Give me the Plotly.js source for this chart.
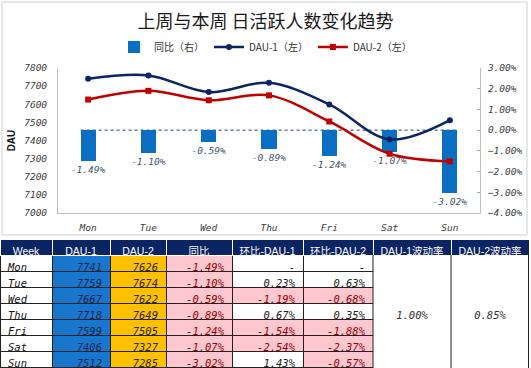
<!DOCTYPE html>
<html>
<head>
<meta charset="utf-8">
<script src="https://cdn.plot.ly/plotly-3.0.1.min.js"></script>
<style>html,body{margin:0;padding:0;background:#fff;}#chart{width:531px;height:368px;}</style>
</head>
<body>
<div id="chart"></div>
<script>
// ---- data ----
const days = ['Mon','Tue','Wed','Thu','Fri','Sat','Sun'];
const dau1 = [7741, 7759, 7667, 7718, 7599, 7406, 7512];
const dau2 = [7626, 7674, 7622, 7649, 7505, 7327, 7285];
const yoyPct = [-1.49, -1.10, -0.59, -0.89, -1.24, -1.07, -3.02];
const momDau1Pct = [null, 0.23, -1.19, 0.67, -1.54, -2.54, 1.43];
const momDau2Pct = [null, 0.63, -0.68, 0.35, -1.88, -2.37, -0.57];
const vol1Pct = 1.00;
const vol2Pct = 0.85;
const headers = ['Week','DAU-1','DAU-2','同比','环比-DAU-1','环比-DAU-2','DAU-1波动率','DAU-2波动率'];
const legendNames = ['同比（右）','DAU-1（左）','DAU-2（左）'];
const titleText = '上周与本周 日活跃人数变化趋势';

// ---- helpers ----
const W = 531, H = 368;
const px = v => v / W;
const py = v => (H - v) / H;
const mono = 'DejaVu Sans Mono, Liberation Mono, monospace';
const cjk = 'Liberation Sans, Noto Sans CJK SC, sans-serif';
const NAVY = '#0b2463';
const PINK = '#FFC7CE';
const DRED = '#9C0006';
const fmtPct = v => (v === null ? '-' : v.toFixed(2) + '%');

const yoyFrac = yoyPct.map(v => v / 100);

const barTrace = {
  type: 'bar', name: legendNames[0], x: days, y: yoyFrac,
  xaxis: 'x', yaxis: 'y', width: 0.25,
  marker: {color: '#0a6fc2'},
  texttemplate: '%{y:.2%}', textposition: 'outside', cliponaxis: false,
  constraintext: 'none',
  textfont: {family: mono, size: 9.5, color: '#44546A', style: 'italic'},
  hoverinfo: 'skip'
};
const line1 = {
  type: 'scatter', mode: 'lines+markers', name: legendNames[1], x: days, y: dau1,
  xaxis: 'x', yaxis: 'y2',
  line: {color: '#0b2463', width: 2.5, shape: 'spline', smoothing: 1},
  marker: {symbol: 'circle', size: 6, color: '#0b2463'}
};
const line2 = {
  type: 'scatter', mode: 'lines+markers', name: legendNames[2], x: days, y: dau2,
  xaxis: 'x', yaxis: 'y2',
  line: {color: '#C00000', width: 2.5, shape: 'spline', smoothing: 1},
  marker: {symbol: 'square', size: 6, color: '#C00000'}
};

// ---- table ----
const n = days.length;
const colWeek = days.slice();
const colD1 = dau1.map(String);
const colD2 = dau2.map(String);
const colYoy = yoyPct.map(fmtPct);
const colM1 = momDau1Pct.map(fmtPct);
const colM2 = momDau2Pct.map(fmtPct);
const mid = Math.floor(n / 2);
const colV1 = days.map((d, i) => i === mid ? fmtPct(vol1Pct) : '');
const colV2 = days.map((d, i) => i === mid ? fmtPct(vol2Pct) : '');

const negFill = arr => arr.map(v => (v !== null && v < 0) ? PINK : 'white');
const negFont = arr => arr.map(v => (v !== null && v < 0) ? DRED : '#222');

const tableTrace = {
  type: 'table',
  domain: {x: [0, px(529)], y: [0, py(239)]},
  columnwidth: [52, 58, 56, 66, 71, 70, 78, 78],
  header: {
    values: headers,
    height: 16,
    align: 'center',
    fill: {color: NAVY},
    line: {color: '#ffffff', width: 1},
    font: {family: cjk, size: 10.5, color: 'white'}
  },
  cells: {
    values: [colWeek, colD1, colD2, colYoy, colM1, colM2, colV1, colV2],
    height: 16,
    align: ['left', 'right', 'right', 'right', 'right', 'right', 'center', 'center'],
    fill: {color: [
      days.map(() => 'white'),
      days.map(() => '#1976cf'),
      days.map(() => '#FFC000'),
      days.map(() => PINK),
      negFill(momDau1Pct),
      negFill(momDau2Pct),
      days.map(() => 'white'),
      days.map(() => 'white')
    ]},
    line: {color: [
      days.map(() => '#222'), days.map(() => '#222'), days.map(() => '#222'),
      days.map(() => '#222'), days.map(() => '#222'), days.map(() => '#222'),
      days.map(() => 'white'), days.map(() => 'white')
    ], width: 1},
    font: {family: mono, size: 10.5, style: 'italic', color: [
      days.map(() => '#111'),
      days.map(() => '#14264d'),
      days.map(() => '#2a2a2a'),
      days.map(() => DRED),
      negFont(momDau1Pct),
      negFont(momDau2Pct),
      days.map(() => '#333'),
      days.map(() => '#333')
    ]}
  }
};

const layout = {
  width: W, height: H,
  margin: {l: 0, r: 0, t: 0, b: 0},
  paper_bgcolor: 'white', plot_bgcolor: 'white',
  showlegend: true,
  title: {text: titleText, x: 0.5, xanchor: 'center', y: py(22), yanchor: 'middle',
    font: {family: 'Noto Sans CJK SC, sans-serif', size: 18, color: '#1a1a1a'}},
  legend: {orientation: 'h', x: 0.5, xanchor: 'center', y: py(47), yanchor: 'middle',
    font: {family: 'Noto Sans CJK SC, sans-serif', size: 10, color: '#333'},
    bgcolor: 'rgba(0,0,0,0)', itemwidth: 30},
  bargap: 0,
  xaxis: {domain: [px(58), px(480)], anchor: 'y2', type: 'category',
    showline: true, linecolor: '#bfbfbf', linewidth: 1,
    showgrid: false, zeroline: false,
    ticks: 'outside', ticklen: 6, tickcolor: 'rgba(0,0,0,0)',
    tickfont: {family: mono, size: 9.5, color: '#404040', style: 'italic'}},
  yaxis: {domain: [py(213), py(68)], anchor: 'x', side: 'right',
    range: [-0.04, 0.03], dtick: 0.01, tick0: 0, tickformat: '.2%',
    showline: true, linecolor: '#bfbfbf', linewidth: 1,
    showgrid: false, zeroline: false,
    ticks: 'inside', ticklen: 3, tickcolor: '#a6a6a6',
    ticklabelstandoff: 5,
    tickfont: {family: mono, size: 9.5, color: '#404040', style: 'italic'}},
  yaxis2: {domain: [py(213), py(68)], anchor: 'x', overlaying: 'y', side: 'left',
    range: [7000, 7800], dtick: 100, tick0: 7000,
    showline: true, linecolor: '#bfbfbf', linewidth: 1,
    showgrid: false, zeroline: false,
    ticks: 'outside', ticklen: 8, tickcolor: 'rgba(0,0,0,0)',
    tickfont: {family: mono, size: 9.5, color: '#404040', style: 'italic'},
    title: {text: 'DAU', standoff: 6, font: {family: 'Liberation Sans, sans-serif', size: 10, color: '#111', weight: 'bold'}}},
  shapes: [
    {type: 'line', xref: 'x', yref: 'y', x0: -0.125, x1: 6.125, y0: 0, y1: 0,
      line: {color: '#1f3a73', width: 1, dash: 'dot'}, layer: 'below'},
    {type: 'rect', xref: 'paper', yref: 'paper', x0: px(2), x1: px(527), y0: py(235), y1: py(2),
      line: {color: '#d0d0d0', width: 1}, fillcolor: 'rgba(0,0,0,0)', layer: 'below'},
    {type: 'line', xref: 'paper', yref: 'paper', x0: px(373), x1: px(373), y0: 0, y1: py(255),
      line: {color: '#222', width: 1}, layer: 'above'},
    {type: 'line', xref: 'paper', yref: 'paper', x0: px(451), x1: px(451), y0: 0, y1: py(255),
      line: {color: '#222', width: 1}, layer: 'above'},
    {type: 'line', xref: 'paper', yref: 'paper', x0: px(528.5), x1: px(528.5), y0: 0, y1: py(255),
      line: {color: '#222', width: 1}, layer: 'above'}
  ]
};

Plotly.newPlot('chart', [barTrace, line1, line2, tableTrace], layout, {staticPlot: true, displayModeBar: false});
</script>
</body>
</html>
